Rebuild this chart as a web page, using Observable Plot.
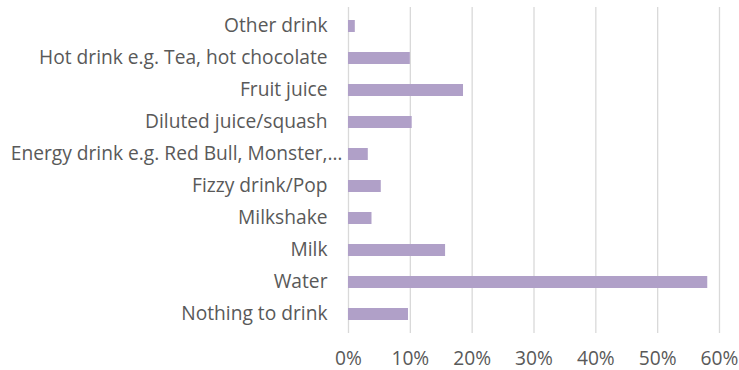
<!DOCTYPE html>
<html>
<head>
<meta charset="utf-8">
<script src="https://cdn.jsdelivr.net/npm/d3@7"></script>
<script src="https://cdn.jsdelivr.net/npm/@observablehq/plot@0.6"></script>
<style>
  html, body { margin: 0; padding: 0; background: #fff; }
  #chart svg { display: block; }
</style>
</head>
<body>
<div id="chart"></div>
<script>
const categories = [
  "Other drink",
  "Hot drink e.g. Tea, hot chocolate",
  "Fruit juice",
  "Diluted juice/squash",
  "Energy drink e.g. Red Bull, Monster,…",
  "Fizzy drink/Pop",
  "Milkshake",
  "Milk",
  "Water",
  "Nothing to drink"
];
const values = [0.011, 0.100, 0.186, 0.103, 0.032, 0.053, 0.038, 0.157, 0.581, 0.097];
const xTicks = [0, 0.1, 0.2, 0.3, 0.4, 0.5, 0.6];

const data = categories.map((c, i) => ({category: c, value: values[i]}));
const truncated = categories.filter(c => c.endsWith("…"));
const normal = categories.filter(c => !c.endsWith("…"));

const font = "'Open Sans', 'Noto Sans', sans-serif";
const chart = Plot.plot({
  width: 739,
  height: 370,
  marginLeft: 348,
  marginRight: 20,
  marginTop: 7,
  marginBottom: 37,
  style: {fontFamily: font, fontSize: "19.2px", color: "#595959", background: "#fff"},
  x: {domain: [0, 0.6], label: null},
  y: {domain: categories, label: null, paddingInner: 0.64, paddingOuter: 0.32},
  marks: [
    Plot.gridX(xTicks, {stroke: "#d9d9d9", strokeOpacity: 1, strokeWidth: 1.3}),
    Plot.barX(data, {x: "value", y: "category", fill: "#b0a0c8"}),
    Plot.axisX(xTicks, {tickSize: 0, tickPadding: 18, tickFormat: d3.format(".0%"), label: null, fill: "#595959"}),
    Plot.axisY(normal, {tickSize: 0, tickPadding: 21, dy: -1, label: null, fill: "#595959"}),
    Plot.axisY(truncated, {tickSize: 0, tickPadding: 6, dy: -1, label: null, fill: "#595959"})
  ]
});
document.getElementById("chart").appendChild(chart);
</script>
</body>
</html>
